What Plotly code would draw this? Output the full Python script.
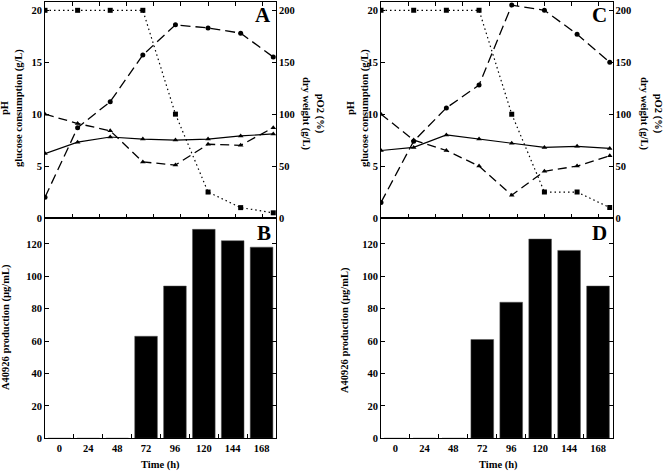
import plotly.graph_objects as go

# ---------------- data ----------------
time_h = [0, 24, 48, 72, 96, 120, 144, 168]
time_labels = ["0", "24", "48", "72", "96", "120", "144", "168"]

# Panel A (left, top) - squares/circles on right axis (x10 scale), triangles on left axis
a_po2 = [200, 200, 200, 200, 100, 25, 10, 5]                 # squares, dotted
a_dry = [20, 87, 112, 157, 186, 183, 178, 155]               # circles, dashed
a_ph = [6.2, 7.3, 7.8, 7.6, 7.5, 7.6, 7.9, 8.1]              # triangles, solid
a_glc = [10, 9.1, 8.4, 5.4, 5.1, 7.1, 7.0, 8.7]              # triangles, dashed

# Panel C (right, top)
c_po2 = [200, 200, 200, 200, 100, 25, 25, 10]
c_dry = [15, 74, 106, 128, 205, 200, 177, 150]
c_ph = [6.5, 6.8, 8.0, 7.6, 7.2, 6.8, 6.9, 6.7]
c_glc = [10, 7.5, 6.5, 5.0, 2.2, 4.5, 5.0, 6.0]

# Panels B and D: A40926 production (ug/mL)
b_prod = [0, 0, 0, 63, 94, 129, 122, 118]
d_prod = [0, 0, 0, 61, 84, 123, 116, 94]

# ---------------- layout geometry ----------------
W, H = 664, 472
def px_x(v): return v / W
def px_y(v): return 1 - v / H

L_dom = [px_x(45), px_x(276)]
R_dom = [px_x(381), px_x(612.5)]
TOP_dom = [px_y(218), px_y(2)]
BOT_dom = [px_y(438.3), px_y(218)]

FONT = "Liberation Serif"
tickfont = dict(family=FONT, size=10.5, color="black", weight="bold")

fig = go.Figure()

def add_lines(xa, ya_left, ya_right, po2, dry, ph, glc):
    fig.add_trace(go.Scatter(x=time_h, y=po2, xaxis=xa, yaxis=ya_right, mode="lines+markers",
                             line=dict(color="black", width=1.2, dash="1.5px,3px"),
                             marker=dict(symbol="square", size=5, color="black")))
    fig.add_trace(go.Scatter(x=time_h, y=dry, xaxis=xa, yaxis=ya_right, mode="lines+markers",
                             line=dict(color="black", width=1.3, dash="10px,5px"),
                             marker=dict(symbol="circle", size=5, color="black")))
    fig.add_trace(go.Scatter(x=time_h, y=ph, xaxis=xa, yaxis=ya_left, mode="lines+markers",
                             line=dict(color="black", width=1.2),
                             marker=dict(symbol="triangle-up", size=5, color="black")))
    fig.add_trace(go.Scatter(x=time_h, y=glc, xaxis=xa, yaxis=ya_left, mode="lines+markers",
                             line=dict(color="black", width=1.3, dash="9px,5px"),
                             marker=dict(symbol="triangle-up", size=5, color="black")))

def add_bars(xa, ya, vals):
    fig.add_trace(go.Bar(x=time_labels, y=vals, xaxis=xa, yaxis=ya,
                         marker=dict(color="black", line=dict(color="#555", width=0.5))))

add_lines("x", "y", "y2", a_po2, a_dry, a_ph, a_glc)
add_bars("x2", "y3", b_prod)
add_lines("x3", "y4", "y5", c_po2, c_dry, c_ph, c_glc)
add_bars("x4", "y6", d_prod)

common_ax = dict(showline=True, linecolor="black", linewidth=1, ticks="inside", ticklen=4,
                 tickcolor="black", tickwidth=1, showgrid=False, zeroline=False,
                 tickfont=tickfont, automargin=False)

def line_x(dom, anchor):
    return dict(common_ax, domain=dom, anchor=anchor, range=[0, 170], tick0=0, dtick=20,
                showticklabels=False, mirror="ticks")

def bar_x(dom, anchor):
    return dict(common_ax, domain=dom, anchor=anchor, type="category", tickson="boundaries",
                mirror=True, categoryorder="array", categoryarray=time_labels)

def left_y(anchor):
    return dict(common_ax, domain=TOP_dom, anchor=anchor, range=[0, 20.8], tick0=0, dtick=5)

def right_y(anchor, over):
    return dict(common_ax, anchor=anchor, overlaying=over, side="right", range=[0, 208],
                tick0=0, dtick=50)

def bar_y(anchor):
    return dict(common_ax, domain=BOT_dom, anchor=anchor, range=[0, 136], tick0=0, dtick=20,
                mirror="ticks")

fig.update_layout(
    width=W, height=H, margin=dict(l=0, r=0, t=0, b=0, autoexpand=False),
    paper_bgcolor="white", plot_bgcolor="white", showlegend=False, bargap=0.215,
    xaxis=line_x(L_dom, "y"), yaxis=left_y("x"), yaxis2=right_y("x", "y"),
    xaxis2=bar_x(L_dom, "y3"), yaxis3=bar_y("x2"),
    xaxis3=line_x(R_dom, "y4"), yaxis4=left_y("x3"), yaxis5=right_y("x3", "y4"),
    xaxis4=bar_x(R_dom, "y6"), yaxis6=bar_y("x4"),
)

title_font = dict(family=FONT, size=10.5, color="black", weight="bold")
letter_font = dict(family=FONT, size=21, color="black", weight="bold")

def ann(x, y, text, angle=0, font=title_font, xanchor="center", yanchor="middle"):
    fig.add_annotation(x=px_x(x), y=px_y(y), xref="paper", yref="paper", text=text,
                       textangle=angle, showarrow=False, font=font,
                       xanchor=xanchor, yanchor=yanchor)

# left titles
ann(12, 108, "pH<br>glucose consumption (g/L)", -90)
ann(313, 113, "pO2 (%)<br>dry weight (g/L)", 90)
ann(6, 327, "A40926 production (µg/mL)", -90)
ann(160, 465, "Time (h)")
# right titles
ann(358, 108, "pH<br>glucose consumption (g/L)", -90)
ann(651, 113, "pO2 (%)<br>dry weight (g/L)", 90)
ann(345, 330, "A40926 production (µg/mL)", -90)
ann(498, 465, "Time (h)")
# panel letters
ann(273, 15, "A", font=letter_font, xanchor="right")
ann(273, 233, "B", font=letter_font, xanchor="right")
ann(609, 15, "C", font=letter_font, xanchor="right")
ann(609, 233, "D", font=letter_font, xanchor="right")

fig.write_html("out.html", config={"displayModeBar": False},
               post_script="document.body.style.margin='0';document.body.style.overflow='hidden';")
